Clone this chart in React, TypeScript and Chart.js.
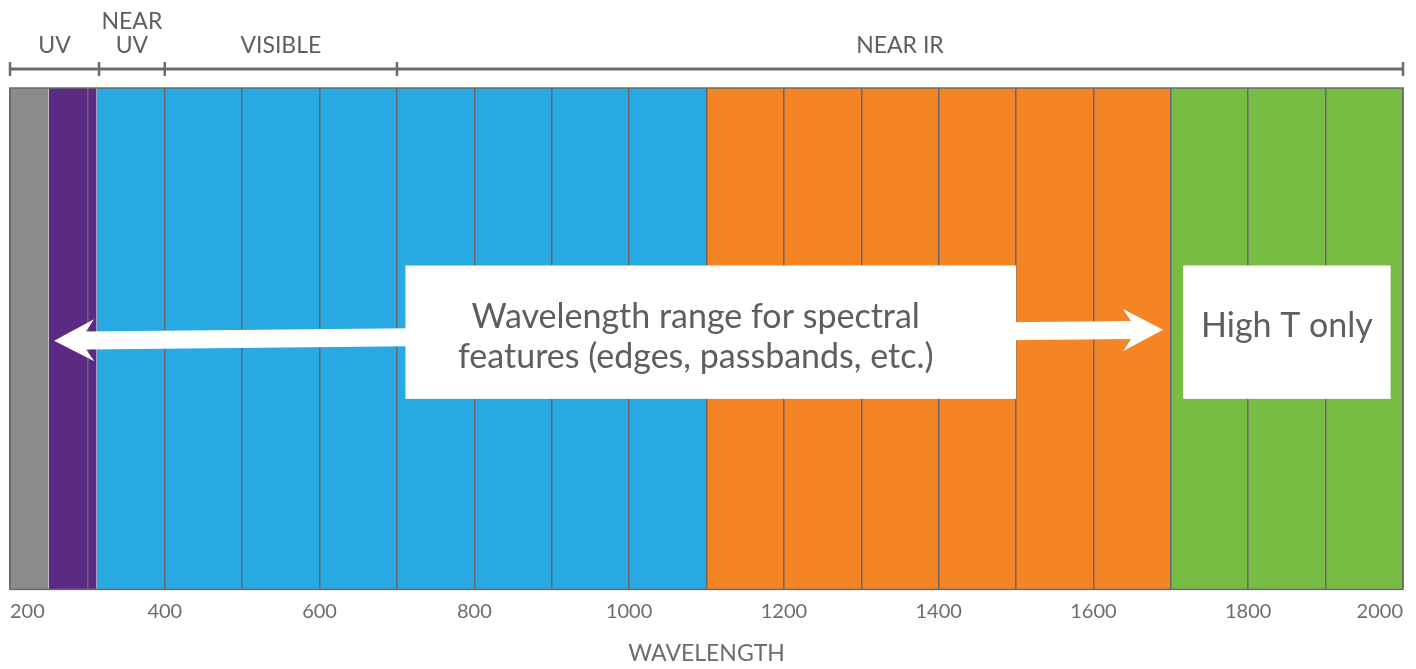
import React, { useEffect, useRef } from "react";
import { Chart, registerables } from "chart.js";

Chart.register(...registerables);

// ---- data ----
const wavelengthMin = 200;
const wavelengthMax = 2000;
const gridStep = 100;
const labelStep = 200;

const bandNames = ["Deep UV", "UV", "Near UV / Visible / Near IR", "Near IR", "High T only"];
const bandStart = [200, 250, 312, 1100, 1700];
const bandEnd = [250, 312, 1100, 1700, 2000];
const bandColors = ["#8a8c8c", "#5b2a82", "#29a9e1", "#f58524", "#77bc43"];

const regionLabels: string[][] = [["UV"], ["NEAR", "UV"], ["VISIBLE"], ["NEAR IR"]];
const regionEdges = [200, 315, 400, 700, 2000];

// arrow: wavelength ends and vertical level (0..1 of plot height)
const arrowWavelengths = [257, 1690];
const arrowLevels = [0.496, 0.518];

// annotation boxes: wavelength span, vertical span
const boxTexts: string[][] = [
  ["Wavelength range for spectral", "features (edges, passbands, etc.)"],
  ["High T only"],
];
const boxFrom = [711, 1716];
const boxTo = [1500, 1984];
const boxBottom = [0.38, 0.38];
const boxTop = [0.646, 0.646];
const boxTextShift = [5, -6];
const boxTextShiftX = [-15, 0];

const FONT = "Lato, 'Open Sans', sans-serif";
const TEXT = "#5e5e5e";

const overlayPlugin = {
  id: "overlay",
  afterDraw(chart: any) {
    const { ctx, chartArea: ca, scales } = chart;
    const x = scales.x;
    const y = scales.y;
    ctx.save();
    // frame
    ctx.strokeStyle = "#6a6a6a";
    ctx.lineWidth = 1.5;
    ctx.strokeRect(ca.left, ca.top, ca.right - ca.left, ca.bottom - ca.top);

    // region brackets
    const by = ca.top - 19;
    ctx.strokeStyle = "#6b6b6b";
    ctx.lineWidth = 3;
    ctx.beginPath();
    ctx.moveTo(x.getPixelForValue(regionEdges[0]), by);
    ctx.lineTo(x.getPixelForValue(regionEdges[regionEdges.length - 1]), by);
    ctx.stroke();
    ctx.lineWidth = 2.5;
    regionEdges.forEach((e) => {
      const px = x.getPixelForValue(e);
      ctx.beginPath();
      ctx.moveTo(px, by - 7);
      ctx.lineTo(px, by + 7);
      ctx.stroke();
    });
    ctx.fillStyle = TEXT;
    ctx.font = `23px ${FONT}`;
    ctx.textAlign = "center";
    ctx.textBaseline = "middle";
    regionLabels.forEach((lines, i) => {
      const cx = (x.getPixelForValue(regionEdges[i]) + x.getPixelForValue(regionEdges[i + 1])) / 2;
      lines.forEach((t, j) => {
        const ly = by - 23 - (lines.length - 1 - j) * 24;
        ctx.fillText(t, cx, ly);
      });
    });

    // arrow
    const p0 = { x: x.getPixelForValue(arrowWavelengths[0]), y: y.getPixelForValue(arrowLevels[0]) };
    const p1 = { x: x.getPixelForValue(arrowWavelengths[1]), y: y.getPixelForValue(arrowLevels[1]) };
    const dx = p1.x - p0.x;
    const dy = p1.y - p0.y;
    const len = Math.hypot(dx, dy);
    const u = { x: dx / len, y: dy / len };
    const n = { x: -u.y, y: u.x };
    const sw = 9, hw = 21, hl = 40, hj = 32;
    const pt = (b: any, a: number, c: number) => [b.x + u.x * a + n.x * c, b.y + u.y * a + n.y * c];
    const poly = [
      pt(p0, 0, 0),
      pt(p0, hl, hw),
      pt(p0, hj, sw),
      pt(p1, -hj, sw),
      pt(p1, -hl, hw),
      pt(p1, 0, 0),
      pt(p1, -hl, -hw),
      pt(p1, -hj, -sw),
      pt(p0, hj, -sw),
      pt(p0, hl, -hw),
    ];
    ctx.fillStyle = "#ffffff";
    ctx.beginPath();
    poly.forEach((p, i) => (i === 0 ? ctx.moveTo(p[0], p[1]) : ctx.lineTo(p[0], p[1])));
    ctx.closePath();
    ctx.fill();

    // boxes
    boxTexts.forEach((lines, i) => {
      const l = x.getPixelForValue(boxFrom[i]);
      const r = x.getPixelForValue(boxTo[i]);
      const t = y.getPixelForValue(boxTop[i]);
      const b = y.getPixelForValue(boxBottom[i]);
      ctx.fillStyle = "#ffffff";
      ctx.fillRect(l, t, r - l, b - t);
      ctx.fillStyle = TEXT;
      ctx.font = `34px ${FONT}`;
      ctx.textAlign = "center";
      ctx.textBaseline = "middle";
      const cy = (t + b) / 2 + boxTextShift[i];
      const cx = (l + r) / 2 + boxTextShiftX[i];
      const lh = 40;
      lines.forEach((s, j) => {
        ctx.fillText(s, cx, cy + (j - (lines.length - 1) / 2) * lh);
      });
    });
    ctx.restore();
  },
};

export default function App() {
  const ref = useRef<HTMLCanvasElement | null>(null);
  useEffect(() => {
    document.body.style.margin = "0";
    const canvas = ref.current;
    if (!canvas) return;
    const datasets = bandNames.map((name, i) => ({
      label: name,
      data: [
        { x: bandStart[i], y: 1 },
        { x: bandEnd[i], y: 1 },
      ],
      fill: "origin",
      backgroundColor: bandColors[i],
      borderWidth: 0,
      borderColor: bandColors[i],
      pointRadius: 0,
      tension: 0,
    }));
    const chart = new Chart(canvas, {
      type: "line",
      data: { datasets: datasets as any },
      options: {
        animation: false,
        responsive: false,
        layout: { padding: { left: 8, right: 13, top: 88, bottom: 2 } },
        plugins: { legend: { display: false }, tooltip: { enabled: false } },
        scales: {
          x: {
            type: "linear",
            min: wavelengthMin,
            max: wavelengthMax,
            grid: { color: "#686868", lineWidth: 1.5, drawTicks: false, z: 1 },
            border: { display: false },
            ticks: {
              stepSize: gridStep,
              autoSkip: false,
              maxRotation: 0,
              align: "inner",
              padding: 10,
              color: "#6d6d6d",
              font: { family: FONT, size: 20 },
              callback: (v: any) => (Number(v) % labelStep === 0 ? String(v) : ""),
            },
            title: {
              display: true,
              text: "WAVELENGTH",
              color: "#6d6d6d",
              font: { family: FONT, size: 23 },
              padding: { top: 6, bottom: 0 },
            },
          },
          y: { display: false, min: 0, max: 1 },
        },
      },
      plugins: [overlayPlugin],
    });
    return () => chart.destroy();
  }, []);
  return (
    <div style={{ width: 1416, height: 669 }}>
      <canvas ref={ref} width={1416} height={669} style={{ display: "block" }} />
    </div>
  );
}
